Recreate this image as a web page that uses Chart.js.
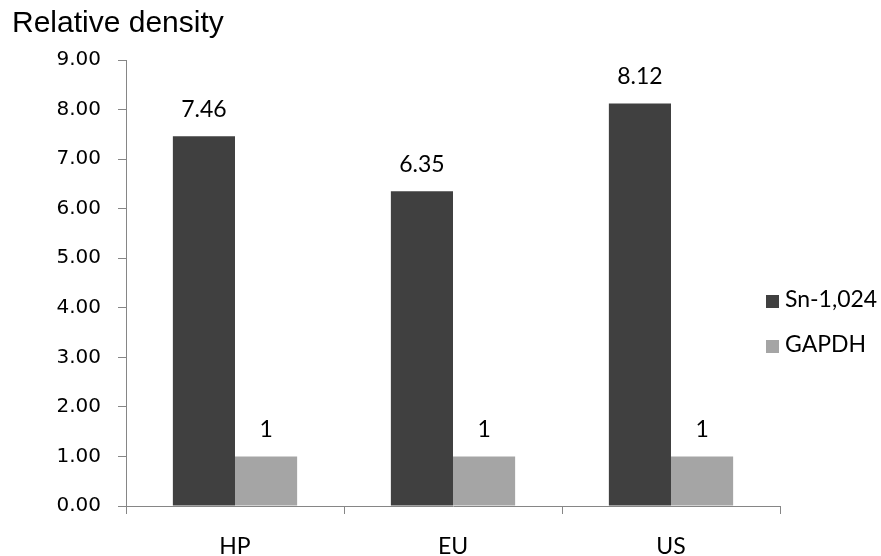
<!DOCTYPE html>
<html>
<head>
<meta charset="utf-8">
<script src="https://cdn.jsdelivr.net/npm/chart.js@4/dist/chart.umd.min.js"></script>
<style>
  html, body { margin: 0; padding: 0; background: #ffffff; }
  #wrap { width: 881px; height: 556px; }
</style>
</head>
<body>
<div id="wrap"><canvas id="chart" width="881" height="556"></canvas></div>
<script>
// Relative density per region
const categories = ['HP', 'EU', 'US'];
const snValues = [7.46, 6.35, 8.12];
const gapdhValues = [1, 1, 1];
const seriesNames = ['Sn-1,024', 'GAPDH'];
const seriesColors = ['#404040', '#a5a5a5'];

const axisColor = '#868686';
const labelFont = 'Lato';

// Value labels above each bar
const valueLabels = {
  id: 'valueLabels',
  afterDatasetsDraw(chart) {
    const ctx = chart.ctx;
    ctx.save();
    ctx.font = '23px ' + labelFont;
    ctx.fillStyle = '#000000';
    ctx.textAlign = 'center';
    ctx.textBaseline = 'alphabetic';
    chart.data.datasets.forEach((ds, i) => {
      const meta = chart.getDatasetMeta(i);
      meta.data.forEach((bar, j) => {
        ctx.fillText(String(ds.data[j]), bar.x, bar.y - 19.5);
      });
    });
    ctx.restore();
  }
};

// Legend on the right, one entry per series
const sideLegend = {
  id: 'sideLegend',
  afterDraw(chart) {
    const ctx = chart.ctx;
    ctx.save();
    ctx.font = '23px ' + labelFont;
    ctx.textAlign = 'left';
    ctx.textBaseline = 'middle';
    chart.data.datasets.forEach((ds, i) => {
      const cy = 300 + i * 45;
      ctx.fillStyle = ds.backgroundColor;
      ctx.fillRect(766, cy - 5, 13, 13);
      ctx.fillStyle = '#000000';
      ctx.fillText(ds.label, 785, cy);
    });
    ctx.restore();
  }
};

new Chart(document.getElementById('chart'), {
  type: 'bar',
  data: {
    labels: categories,
    datasets: [
      { label: seriesNames[0], data: snValues, backgroundColor: seriesColors[0] },
      { label: seriesNames[1], data: gapdhValues, backgroundColor: seriesColors[1] }
    ]
  },
  options: {
    responsive: false,
    animation: false,
    layout: { padding: { left: 12, right: 101, top: 0, bottom: 0 } },
    datasets: {
      bar: { categoryPercentage: 0.57, barPercentage: 1.0, borderWidth: 0 }
    },
    plugins: {
      legend: { display: false },
      tooltip: { enabled: false },
      title: {
        display: true,
        text: 'Relative density',
        align: 'start',
        color: '#000000',
        font: { family: 'Liberation Sans', size: 30, weight: 'normal' },
        padding: { top: 6, bottom: 18 }
      }
    },
    scales: {
      x: {
        grid: {
          offset: true,
          drawOnChartArea: false,
          drawTicks: true,
          tickLength: 8,
          tickColor: axisColor,
          tickWidth: 1
        },
        border: { color: axisColor, width: 1 },
        ticks: {
          color: '#000000',
          font: { family: labelFont, size: 23 },
          padding: 19
        },
        afterFit(scale) { scale.height = 50; }
      },
      y: {
        min: 0,
        max: 9,
        grid: {
          drawOnChartArea: false,
          drawTicks: true,
          tickLength: 8,
          tickColor: axisColor,
          tickWidth: 1
        },
        border: { color: axisColor, width: 1 },
        ticks: {
          stepSize: 1,
          color: '#000000',
          font: { family: 'DejaVu Sans', size: 20 },
          padding: 17,
          callback: (v) => Number(v).toFixed(2)
        },
        afterFit(scale) { scale.width = 114; }
      }
    }
  },
  plugins: [valueLabels, sideLegend]
});
</script>
</body>
</html>
